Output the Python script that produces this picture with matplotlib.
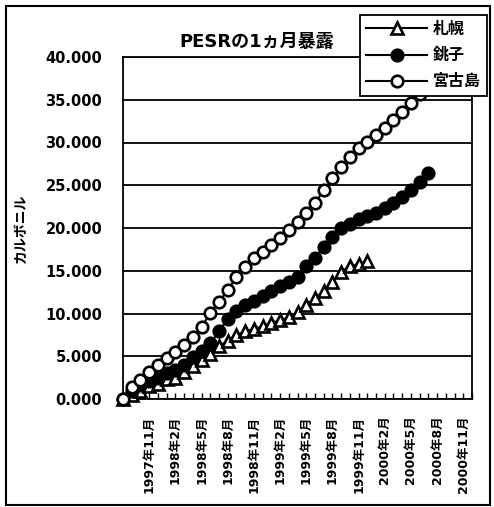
import matplotlib
matplotlib.use('Agg')
import matplotlib.pyplot as plt
from matplotlib.patches import Rectangle
from matplotlib.ticker import FuncFormatter, MultipleLocator

# ---- data (monthly cumulative values, category index 0 = 1997年8月) ----
n_categories = 41
series_names = ['札幌', '銚子', '宮古島']
sapporo = [0, 500, 900, 1500, 1800, 2300, 2500, 3100, 3900, 4600, 5300, 6200, 6800,
           7500, 7900, 8200, 8500, 8900, 9200, 9550, 10200, 11000, 11800, 12600,
           13700, 14900, 15500, 15800, 16100]
choshi = [0, 900, 1600, 2050, 2500, 3000, 3450, 4000, 4900, 5600, 6500, 7900, 9400,
          10300, 11000, 11500, 12000, 12600, 13200, 13700, 14300, 15500, 16500,
          17800, 19000, 20000, 20500, 21000, 21400, 21800, 22300, 22900, 23600,
          24500, 25400, 26400]
miyako = [0, 1400, 2200, 3150, 3950, 4800, 5500, 6300, 7250, 8400, 10050, 11350,
          12750, 14250, 15450, 16500, 17200, 18000, 18800, 19750, 20700, 21750,
          22900, 24400, 25800, 27100, 28300, 29350, 30050, 30900, 31700, 32650,
          33550, 34600, 35700, 36800]
xtick_positions = [3, 6, 9, 12, 15, 18, 21, 24, 27, 30, 33, 36, 39]
xtick_labels = ['1997年11月', '1998年2月', '1998年5月', '1998年8月', '1998年11月',
                '1999年2月', '1999年5月', '1999年8月', '1999年11月', '2000年2月',
                '2000年5月', '2000年8月', '2000年11月']
ytick_values = [0, 5000, 10000, 15000, 20000, 25000, 30000, 35000, 40000]
title = 'PESRの1ヵ月暴露'
ylabel = 'カルボニル'

FAM = ['DejaVu Sans', 'Noto Sans CJK JP']
plt.rcParams['font.family'] = FAM
plt.rcParams['font.weight'] = 'bold'

W, H = 494, 507
fig = plt.figure(figsize=(W / 100, H / 100), dpi=100)
L, R, T, B = 123, 472, 57, 399
ax = fig.add_axes([L / W, 1 - B / H, (R - L) / W, (B - T) / H])

ms = 8.3
mew = 1.9
lw = 1.5
h1, = ax.plot(range(len(sapporo)), sapporo, color='black', lw=lw, marker='^',
              markersize=ms, markerfacecolor='white', markeredgecolor='black',
              markeredgewidth=mew, clip_on=False, zorder=3)
h2, = ax.plot(range(len(choshi)), choshi, color='black', lw=lw, marker='o',
              markersize=ms, markerfacecolor='black', markeredgecolor='black',
              markeredgewidth=mew, clip_on=False, zorder=4)
h3, = ax.plot(range(len(miyako)), miyako, color='black', lw=lw, marker='o',
              markersize=ms, markerfacecolor='white', markeredgecolor='black',
              markeredgewidth=mew, clip_on=False, zorder=5)

ax.set_xlim(0, n_categories - 1)
ax.set_ylim(ytick_values[0], ytick_values[-1])
ax.set_yticks(ytick_values)
ax.yaxis.set_major_formatter(FuncFormatter(lambda v, p: f"{v/1000:.3f}"))
ax.yaxis.grid(True, color='black', lw=1.3)
ax.set_axisbelow(True)
ax.tick_params(axis='y', length=0, pad=15, labelsize=10.5)

ax.set_xticks(xtick_positions)
ax.set_xticklabels(xtick_labels, rotation=90, fontsize=9, fontweight='bold')
ax.xaxis.set_minor_locator(MultipleLocator(1))
ax.tick_params(axis='x', which='both', direction='in', length=4, width=1.0, pad=12)

for s in ax.spines.values():
    s.set_color('black')
    s.set_linewidth(1.3)

ax.set_ylabel(ylabel, fontsize=10, fontweight='bold', labelpad=0)
ax.yaxis.set_label_coords((28 - L) / (R - L), 0.5)

fig.text(257 / W, 1 - 42 / H, title, ha='center', va='center', fontsize=13,
         fontweight='bold')

leg = ax.legend([h1, h2, h3], series_names, loc='upper left',
                bbox_to_anchor=(360 / W, 1 - 15 / H), bbox_transform=fig.transFigure,
                frameon=True, fancybox=False, framealpha=1, edgecolor='black',
                handlelength=3.8, handletextpad=0.35, labelspacing=0.7,
                borderpad=0.4, borderaxespad=0,
                prop={'family': FAM, 'weight': 'bold', 'size': 11.5})
leg.get_frame().set_linewidth(1.3)
leg.set_zorder(10)

fig.patches.append(Rectangle((6 / W, 1 - 505 / H), (490 - 6) / W, (505 - 6) / H,
                             transform=fig.transFigure, fill=False,
                             edgecolor='black', lw=1.5))

fig.savefig('out.png', dpi=100)
